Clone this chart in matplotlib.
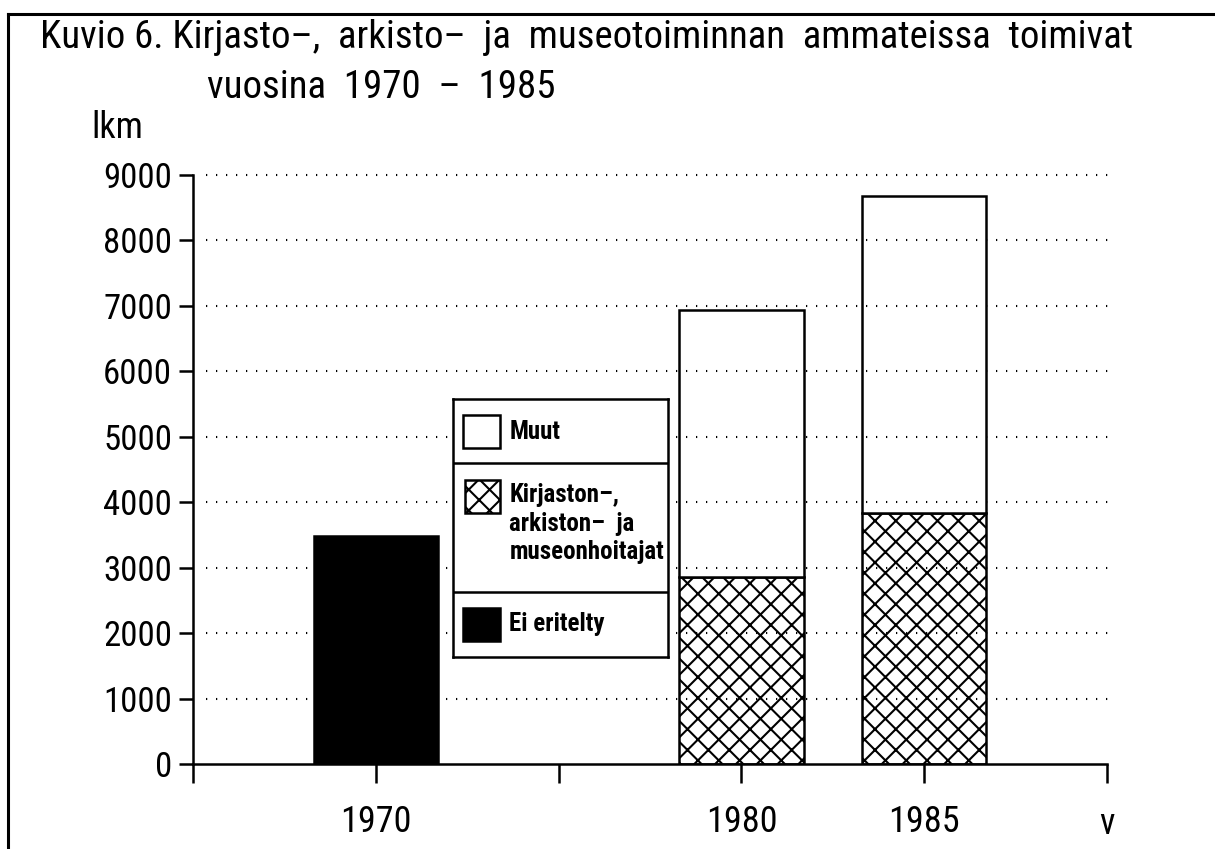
import numpy as np
import matplotlib
matplotlib.use('Agg')
import matplotlib.pyplot as plt
from matplotlib import font_manager
from matplotlib.patches import Rectangle
from matplotlib.lines import Line2D

# data
years = [1970, 1980, 1985]
ei_eritelty = [3490, 0, 0]
kirjastonhoitajat = [0, 2865, 3840]
muut = [0, 4065, 4835]

series_labels = ['Muut', 'Kirjaston\u2013,\narkiston\u2013  ja\nmuseonhoitajat', 'Ei eritelty']
yticks = [0, 1000, 2000, 3000, 4000, 5000, 6000, 7000, 8000, 9000]
xticks = [1965, 1970, 1975, 1980, 1985, 1990]
xticklabels = ['', '1970', '', '1980', '1985', '']

title1 = 'Kuvio 6. Kirjasto\u2013,  arkisto\u2013  ja  museotoiminnan  ammateissa  toimivat'
title2 = 'vuosina  1970  \u2013  1985'

# hatch spacing follows the dpi, so render at 125 dpi and scale point sizes back
DPI = 125
W, H = 1215, 849
def pt(v):
    return v * 100 / DPI

installed = {f.name for f in font_manager.fontManager.ttflist}
FONT = next((n for n in ['Liberation Sans Narrow', 'Roboto Condensed', 'DejaVu Sans Condensed', 'Liberation Sans']
             if n in installed), 'DejaVu Sans')
plt.rcParams['font.family'] = [FONT, 'DejaVu Sans']
plt.rcParams['hatch.linewidth'] = pt(1.5)

fig = plt.figure(figsize=(W / DPI, H / DPI), dpi=DPI)
ax = fig.add_axes([193 / W, 1 - 764 / H, 914 / W, 589 / H])

bar_w = 3.4
lw = pt(1.8)

def bars(vals, bottom, **kw):
    x = [y for y, v in zip(years, vals) if v > 0]
    h = [v for v in vals if v > 0]
    b = [bb for bb, v in zip(bottom, vals) if v > 0]
    return ax.bar(x, h, bar_w, bottom=b, edgecolor='black', linewidth=lw, zorder=2, **kw)

zeros = [0] * len(years)
bars(ei_eritelty, zeros, color='black')
bars(kirjastonhoitajat, zeros, facecolor='white', hatch='xx')
bars(muut, kirjastonhoitajat, facecolor='white')

# dotted grid
ax.hlines(yticks[1:], 1965.35, 1990.1, colors='black', linewidth=pt(1.5),
          linestyles=(0, (0.6, 4.2)), zorder=3, clip_on=False)

ax.set_xlim(1965, 1990)
ax.set_ylim(0, 9000)
ax.set_xticks(xticks)
ax.set_xticklabels(xticklabels)
ax.set_yticks(yticks)
ax.set_yticklabels([str(v) for v in yticks])
for s in ['top', 'right']:
    ax.spines[s].set_visible(False)
for s in ['left', 'bottom']:
    ax.spines[s].set_linewidth(lw)
ax.tick_params(axis='x', direction='out', length=pt(14), width=lw, pad=pt(15), labelsize=pt(26))
ax.tick_params(axis='y', direction='out', length=pt(10), width=lw, pad=pt(5), labelsize=pt(25))
ax.set_xlabel('v', fontsize=pt(26))
ax.xaxis.set_label_coords(1.0, -0.072)

ax.text(-0.111, 1.08, 'lkm', transform=ax.transAxes, fontsize=pt(26), va='center', ha='left')
fig.text(40 / W, 1 - 38 / H, title1, fontsize=pt(28), va='center', ha='left')
fig.text(207 / W, 1 - 88 / H, title2, fontsize=pt(28), va='center', ha='left')

# frame lines of the original sheet
fig.add_artist(Line2D([8 / W, 1], [1 - 14 / H] * 2, color='black', linewidth=pt(2.2)))
fig.add_artist(Line2D([8 / W] * 2, [0, 1 - 14 / H], color='black', linewidth=pt(2.2)))

# legend box with divided sections
lg = fig.add_axes([453 / W, 1 - 657 / H, 215 / W, 258 / H])
lg.set_xlim(0, 1)
lg.set_ylim(0, 1)
lg.set_xticks([])
lg.set_yticks([])
for s in lg.spines.values():
    s.set_linewidth(lw)
lg.axhline(0.752, color='black', linewidth=lw)
lg.axhline(0.252, color='black', linewidth=lw)
lg.add_patch(Rectangle((0.047, 0.81), 0.172, 0.128, facecolor='white', edgecolor='black', linewidth=lw))
lg.add_patch(Rectangle((0.056, 0.558), 0.163, 0.128, facecolor='white', edgecolor='black', linewidth=lw, hatch='xx'))
lg.add_patch(Rectangle((0.047, 0.062), 0.172, 0.128, facecolor='black', edgecolor='black', linewidth=lw))
lg.text(0.262, 0.872, series_labels[0], fontsize=pt(18), fontweight='bold', va='center')
lg.text(0.262, 0.675, series_labels[1], fontsize=pt(18), fontweight='bold', va='top', linespacing=1.25)
lg.text(0.262, 0.128, series_labels[2], fontsize=pt(18), fontweight='bold', va='center')

fig.savefig('out.png', dpi=DPI)
